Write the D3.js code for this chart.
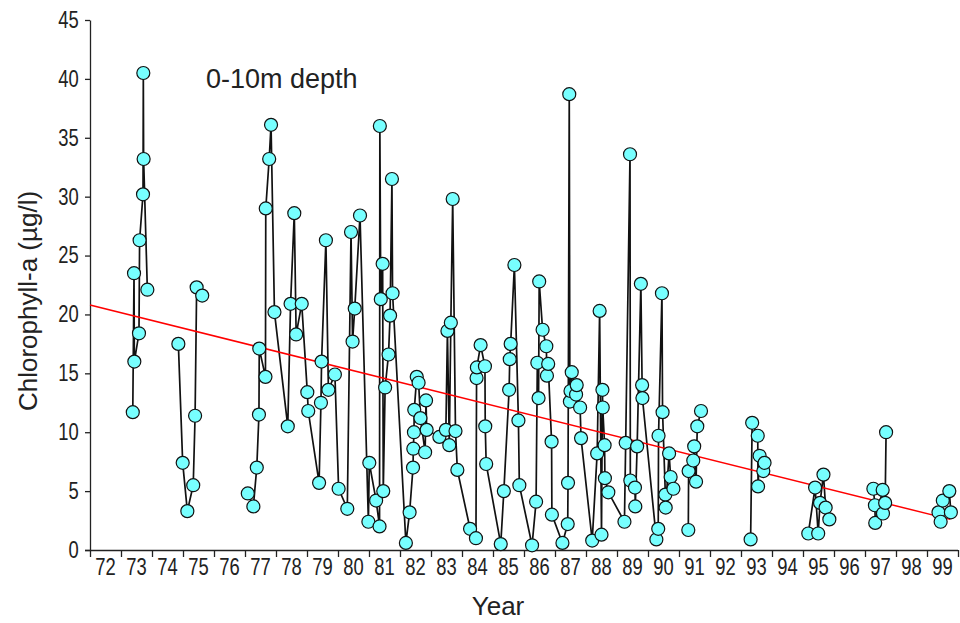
<!DOCTYPE html>
<html>
<head>
<meta charset="utf-8">
<script src="https://cdn.jsdelivr.net/npm/d3@7"></script>
<style>
  body { margin: 0; background: #fff; }
  .axisBlack text { font-family: "Liberation Sans", Arial, sans-serif; font-size: 23px; fill: #222; }
  .axisBlack line, .axisBlack path { stroke: #222; stroke-width: 1.3px; }
</style>
</head>
<body>
<div id="plot"></div>
<script>
// sampling dates (decimal year), null = gap between surveys
var sample_years = [
  1973.38, 1973.42, 1973.43, 1973.58, 1973.60, 1973.71, 1973.72, 1973.73, 1973.85, null,
  1974.85, 1974.99, 1975.14, 1975.33, 1975.39, 1975.44, 1975.62, null,
  1977.09, 1977.27, 1977.38, 1977.45, 1977.46, 1977.66, 1977.67, 1977.78, 1977.84, 1977.95,
  1978.38, 1978.47, 1978.59, 1978.65, 1978.83, 1979.01, 1979.04, 1979.39, 1979.45, 1979.47,
  1979.61, 1979.69, 1979.90, 1980.02, 1980.30, 1980.42, 1980.47, 1980.54, 1980.71, 1980.98,
  1981.01, 1981.23, 1981.34, 1981.35, 1981.38, 1981.44, 1981.46, 1981.52, 1981.63, 1981.68,
  1981.74, 1981.76, 1982.19, 1982.31, 1982.42, 1982.43, 1982.45, 1982.46, 1982.54, 1982.60,
  1982.66, 1982.81, 1982.84, 1982.86, 1983.27, 1983.48, 1983.53, 1983.59, 1983.64, 1983.70,
  1983.79, 1983.85, 1984.26, 1984.45, 1984.47, 1984.48, 1984.60, 1984.74, 1984.75, 1984.78,
  1985.25, 1985.35, 1985.52, 1985.54, 1985.57, 1985.69, 1985.82, 1985.85, 1986.26, 1986.39,
  1986.43, 1986.47, 1986.49, 1986.60, 1986.72, 1986.74, 1986.78, 1986.89, 1986.90, 1987.24,
  1987.41, 1987.42, 1987.46, 1987.48, 1987.50, 1987.54, 1987.68, 1987.70, 1987.81, 1987.84,
  1988.20, 1988.36, 1988.44, 1988.50, 1988.53, 1988.54, 1988.60, 1988.61, 1988.72, 1989.24,
  1989.28, 1989.42, 1989.43, 1989.58, 1989.59, 1989.65, 1989.77, 1989.81, 1989.82, 1990.27,
  1990.33, 1990.34, 1990.45, 1990.47, 1990.56, 1990.57, 1990.68, 1990.73, 1990.82, null,
  1991.30, 1991.31, 1991.46, 1991.49, 1991.55, 1991.59, 1991.71, null,
  1993.31, 1993.36, 1993.54, 1993.55, 1993.60, 1993.72, 1993.76, null,
  1995.17, 1995.39, 1995.49, 1995.55, 1995.66, 1995.73, 1995.85, null,
  1997.27, 1997.32, 1997.33, 1997.57, 1997.58, 1997.65, 1997.68, null,
  1999.37, 1999.44, 1999.51, 1999.72, 1999.77
];

// chlorophyll-a (ug/l), 0-10m
var chl_values = [
  11.7, 23.5, 16.0, 18.4, 26.3, 30.2, 40.5, 33.2, 22.1, null,
  17.5, 7.4, 3.3, 5.5, 11.4, 22.3, 21.6, null,
  4.8, 3.7, 7.0, 11.5, 17.1, 14.7, 29.0, 33.2, 36.1, 20.2,
  10.5, 20.9, 28.6, 18.3, 20.9, 13.4, 11.8, 5.7, 12.5, 16.0,
  26.3, 13.6, 14.9, 5.2, 3.5, 27.0, 17.7, 20.5, 28.4, 2.4,
  7.4, 4.2, 2.0, 36.0, 21.3, 24.3, 5.0, 13.8, 16.6, 19.9,
  31.5, 21.8, 0.6, 3.2, 7.0, 8.6, 10.0, 11.9, 14.7, 14.2,
  11.2, 8.3, 12.7, 10.2, 9.6, 10.2, 18.6, 8.9, 19.3, 29.8,
  10.1, 6.8, 1.8, 1.0, 14.6, 15.5, 17.4, 15.6, 10.5, 7.3,
  0.5, 5.0, 13.6, 16.2, 17.5, 24.2, 11.0, 5.5, 0.4, 4.1,
  15.9, 12.9, 22.8, 18.7, 17.3, 14.8, 15.8, 9.2, 3.0, 0.6,
  2.2, 5.7, 38.7, 12.6, 13.5, 15.1, 13.2, 14.0, 12.1, 9.5,
  0.8, 8.2, 20.3, 1.3, 13.6, 12.1, 8.9, 6.1, 4.9, 2.4,
  9.1, 33.6, 5.9, 5.3, 3.7, 8.8, 22.6, 14.0, 12.9, 0.9,
  1.8, 9.7, 21.8, 11.7, 4.7, 3.6, 8.2, 6.2, 5.2, null,
  1.7, 6.7, 7.6, 8.8, 5.8, 10.5, 11.8, null,
  0.9, 10.8, 9.7, 5.4, 8.0, 6.7, 7.4, null,
  1.4, 5.3, 1.4, 4.0, 6.4, 3.6, 2.6, null,
  5.2, 3.8, 2.3, 5.1, 3.1, 4.0, 10.0, null,
  3.2, 2.4, 4.2, 5.0, 3.2
];

// linear trend end points
var trend_years = [1972.0, 1999.75];
var trend_values = [20.8, 2.6];

var year_labels = ["72","73","74","75","76","77","78","79","80","81","82","83","84","85",
  "86","87","88","89","90","91","92","93","94","95","96","97","98","99"];
var y_ticks = [0, 5, 10, 15, 20, 25, 30, 35, 40, 45];

class ChlPlot {

  constructor(){
    this.width = 960;
    this.height = 623;
    this.left = 90;
    this.right = 958;
    this.top = 20;
    this.bottom = 550;
    this.narrow = 0.8;   // tick labels in the original are condensed

    this.data = sample_years.map(function(d, i) {
      return {year: d, value: chl_values[i]};
    });

    this.svg = d3.select('div#plot').append("svg")
      .attr("width", this.width + "px")
      .attr("height", this.height + "px")
      .style("display", "block");
  }

  draw() {
    var current = this;

    var xScale = d3.scaleLinear()
      .domain([1972, 2000])
      .range([this.left, this.right]);

    var yScale = d3.scaleLinear()
      .domain([0, 45])
      .range([this.bottom, this.top]);

    // year boundaries as ticks, labels sit in the middle of each year
    var xAxis = g => g
      .attr("transform", `translate(0,${this.bottom})`)
      .attr("class", "axisBlack")
      .call(d3.axisBottom(xScale).tickValues(d3.range(1972, 2001)).tickFormat("").tickSize(7).tickSizeOuter(0))
      .call(g => g.select(".domain").attr("d", `M${this.left - 5},0.5H${this.right}`));

    var yAxis = g => g
      .attr("transform", `translate(${this.left},0)`)
      .attr("class", "axisBlack")
      .call(d3.axisLeft(yScale).tickValues(y_ticks).tickSize(5).tickSizeOuter(0))
      .call(g => g.selectAll(".tick text")
          .attr("x", -14)
          .attr("transform", `scale(${this.narrow},1)`));

    this.svg.append("g").call(xAxis);
    this.svg.append("g").call(yAxis);

    this.svg.append("g")
      .attr("class", "axisBlack")
      .selectAll("text")
      .data(year_labels)
      .enter()
      .append("text")
        .attr("transform", (d, i) => `translate(${xScale(1972 + i + 0.5)},${this.bottom + 25}) scale(${current.narrow},1)`)
        .attr("text-anchor", "middle")
        .text(d => d);

    var line = d3.line()
      .defined(d => d.value != null)
      .x(d => xScale(d.year))
      .y(d => yScale(d.value));

    this.svg.append("path")
      .datum(this.data)
      .attr("fill", "none")
      .attr("stroke", "#111")
      .attr("stroke-width", 1.7)
      .attr("d", line);

    this.svg.append("line")
      .attr("x1", xScale(trend_years[0]))
      .attr("y1", yScale(trend_values[0]))
      .attr("x2", xScale(trend_years[1]))
      .attr("y2", yScale(trend_values[1]))
      .attr("stroke", "#ff0000")
      .attr("stroke-width", 1.5);

    this.svg.append("g")
      .selectAll("circle")
      .data(this.data.filter(d => d.value != null))
      .enter()
      .append("circle")
        .attr("cx", d => xScale(d.year))
        .attr("cy", d => yScale(d.value))
        .attr("r", 6.5)
        .attr("fill", "#77ffff")
        .attr("stroke", "#111")
        .attr("stroke-width", 1.2);

    this.svg.append("text")
      .attr("x", 206)
      .attr("y", 88)
      .style("font-family", "Liberation Sans, Arial, sans-serif")
      .style("font-size", "27px")
      .style("fill", "#222")
      .text("0-10m depth");

    this.svg.append("text")
      .attr("x", 498)
      .attr("y", 615)
      .attr("text-anchor", "middle")
      .style("font-family", "Liberation Sans, Arial, sans-serif")
      .style("font-size", "26px")
      .style("fill", "#222")
      .text("Year");

    this.svg.append("text")
      .attr("transform", "translate(37,301) rotate(-90)")
      .attr("text-anchor", "middle")
      .style("font-family", "Liberation Sans, Arial, sans-serif")
      .style("font-size", "26px")
      .style("fill", "#222")
      .text("Chlorophyll-a (\u00b5g/l)");
  }

}

var plot = new ChlPlot();
plot.draw();
</script>
</body>
</html>
